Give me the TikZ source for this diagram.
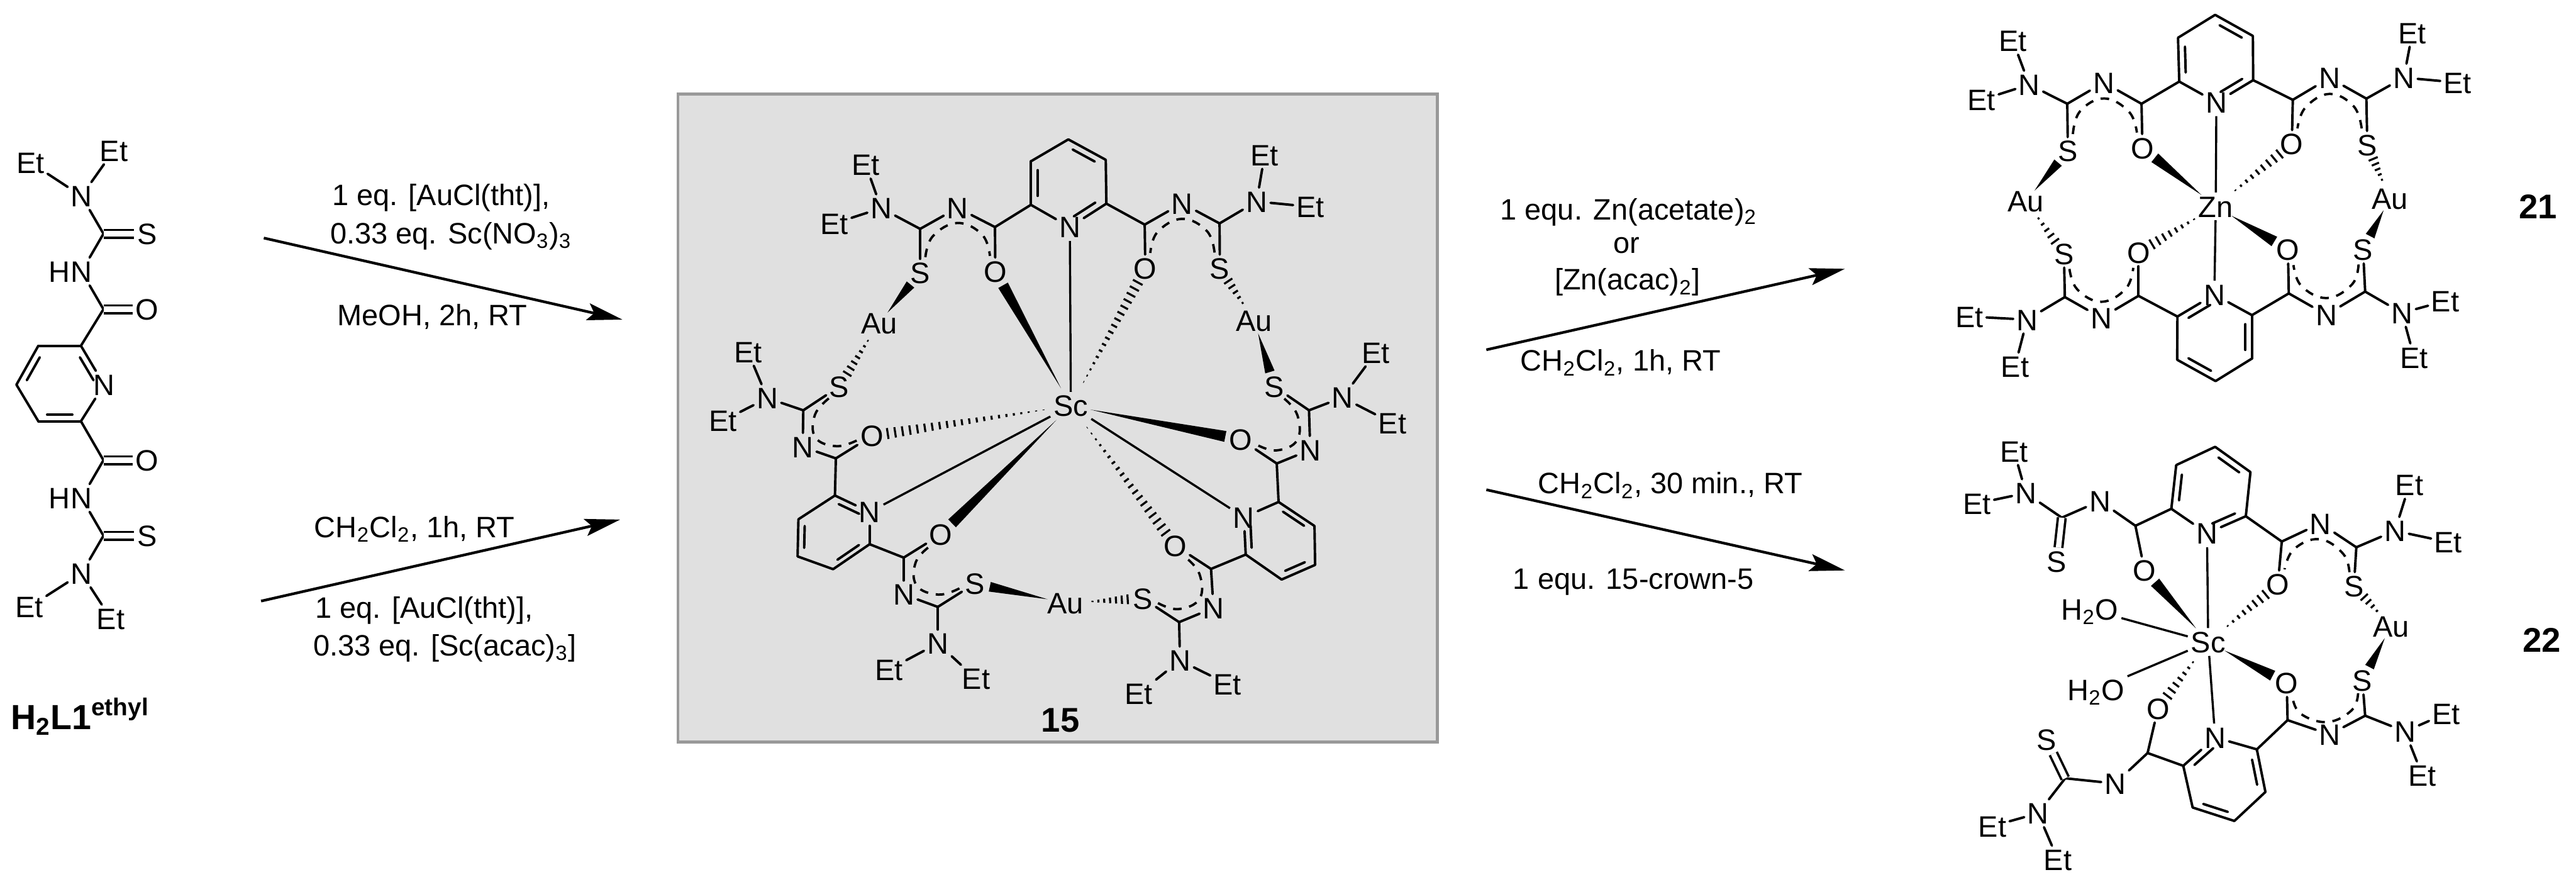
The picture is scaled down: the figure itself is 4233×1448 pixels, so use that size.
\documentclass[tikz,border=0pt]{standalone}
\usepackage{fontspec}
\setmainfont{Liberation Sans}
\usetikzlibrary{calc,arrows.meta}
\definecolor{boxfill}{HTML}{E0E0E0}
\definecolor{boxline}{HTML}{999999}
\tikzset{
  atom/.style={font=\fontsize{13.8}{16}\selectfont,inner sep=1.3pt,text height=10pt,text depth=0pt},
  cmpd/.style={font=\fontsize{16}{18}\selectfont\bfseries,inner sep=0pt,text height=11.5pt,text depth=0pt},
  lab/.style={font=\fontsize{13.8}{16}\selectfont,inner sep=0pt,anchor=base west},
  bond/.style={line width=1.15pt,line cap=round,line join=round},
  thinb/.style={line width=1pt},
  dbl/.style={line width=1.1pt,double=white,double distance=2.5pt},
  hashl/.style={line width=.95pt},
  deltabond/.style={line width=1.1pt,dash pattern=on 4pt off 3.6pt},
  rxn/.style={line width=1.25pt,-{Stealth[length=16.5pt,width=8pt,inset=3pt]}},
}
\newcommand\atm[4]{\node[atom] (#1) at (#2,#3) {#4};}
\newcommand\crd[3]{\coordinate (#1) at (#2,#3);}
\newcommand\bonds[1]{\foreach \p/\q in {#1}{\draw[bond] (\p) -- (\q);}}
\newcommand\thins[1]{\foreach \p/\q in {#1}{\draw[thinb] (\p) -- (\q);}}
\newcommand\ringd[3]{\draw[bond] ($(#1)!0.14!(#2)!0.18!(#3)$) -- ($(#2)!0.14!(#1)!0.18!(#3)$);}
% wedge: narrow end at #1, wide end at #2, gaps #3 #4, half width #5
\newcommand\wdg[5]{%
  \coordinate (wA) at ($(#1)!#3!(#2)$);
  \coordinate (wB) at ($(#2)!#4!(#1)$);
  \fill (wA) -- ($(wB)!#5!90:(#1)$) -- ($(wB)!#5!-90:(#1)$) -- cycle;}
% hashed wedge: narrow end at #1, wide end at #2, gaps #3 #4, half width #5, count #6
\newcommand\hsh[6]{%
  \coordinate (hA) at ($(#1)!#3!(#2)$);
  \coordinate (hB) at ($(#2)!#4!(#1)$);
  \foreach \i in {1,...,#6}{
    \pgfmathsetmacro\tt{\i/#6}
    \pgfmathsetlengthmacro\ww{#5*\tt}
    \coordinate (hc) at ($(hA)!\tt!(hB)$);
    \draw[hashl] ($(hc)!\ww!90:(#2)$) -- ($(hc)!\ww!-90:(#2)$);
  }}
% delocalised arc: S, Cs, N, Co, O
\newcommand\deloc[5]{%
  \coordinate (d1) at ($(#2)!.62!(#1)!.07!(#5)$);
  \coordinate (d2) at ($(#2)!.17!(#5)$);
  \coordinate (d3) at ($(#2)!.5!(#4)!.25!(#3)$);
  \coordinate (d4) at ($(#4)!.17!(#1)$);
  \coordinate (d5) at ($(#4)!.62!(#5)!.07!(#1)$);
  \draw[deltabond] plot[smooth,tension=.7] coordinates {(d1) (d2) (d3) (d4) (d5)};}
\begin{document}
\begin{tikzpicture}[x=0.01cm,y=-0.01cm]
\useasboundingbox (0,0) rectangle (4233,1448);
\node[draw=boxline,fill=boxfill,line width=1.3pt,minimum width=12.47cm,minimum height=10.64cm,inner sep=0pt,anchor=north west] (panel) at (1112,152) {};

% ---------- ligand H2L1
\atm{LE1}{50}{267}{Et}\atm{LE2}{187}{247}{Et}\atm{LN1}{134}{322}{N}
\crd{LC1}{170}{384}\atm{LS1}{242}{384}{S}
\atm{LH1}{98}{446}{H}\atm{LN2}{134}{446}{N}
\crd{LC2}{170}{508}\atm{LO1}{242}{508}{O}
\crd{Lr1}{133}{568}\atm{LNp}{171}{632}{N}\crd{Lr3}{133}{692}\crd{Lr4}{63}{692}\crd{Lr5}{27}{632}\crd{Lr6}{63}{568}\crd{Lrc}{99}{632}
\crd{LC3}{170}{756}\atm{LO2}{242}{756}{O}
\atm{LH2}{98}{818}{H}\atm{LN3}{134}{818}{N}
\crd{LC4}{170}{880}\atm{LS2}{242}{880}{S}
\atm{LN4}{134}{942}{N}\atm{LE3}{48}{997}{Et}\atm{LE4}{182}{1016}{Et}
\bonds{LN1/LE1,LN1/LE2,LN1/LC1,LC1/LN2,LN2/LC2,LC2/Lr1,Lr1/LNp,LNp/Lr3,Lr3/Lr4,Lr4/Lr5,Lr5/Lr6,Lr6/Lr1,Lr3/LC3,LC3/LN3,LN3/LC4,LC4/LN4,LN4/LE3,LN4/LE4}
\foreach \p/\q in {LC1/LS1,LC2/LO1,LC3/LO2,LC4/LS2}{\draw[dbl] (\p) -- (\q);}
\ringd{Lr1}{LNp}{Lrc}\ringd{Lr3}{Lr4}{Lrc}\ringd{Lr5}{Lr6}{Lrc}
\node[anchor=base west,inner sep=0pt,font=\fontsize{16.3}{18}\selectfont\bfseries] (Lname) at (17,1198) {H\textsubscript{2}L1\textsuperscript{ethyl}};

% ---------- arrows and conditions
\crd{ar1s}{433.5}{391}\crd{ar1e}{1022.8}{525}
\crd{ar2s}{429}{987.4}\crd{ar2e}{1019}{853.5}
\crd{ar3s}{2442.4}{574.6}\crd{ar3e}{3031.7}{441.6}
\crd{ar4s}{2442.4}{804.5}\crd{ar4e}{3031.7}{937}
\draw[rxn] (ar1s) -- (ar1e);
\draw[rxn] (ar2s) -- (ar2e);
\draw[rxn] (ar3s) -- (ar3e);
\draw[rxn] (ar4s) -- (ar4e);
\node[lab] (t1) at (545,337.7) {1 eq. [AuCl(tht)],};
\node[lab] (t2) at (542,400) {0.33 eq. Sc(NO\textsubscript{3})\textsubscript{3}};
\node[lab] (t3) at (554,534.8) {MeOH, 2h, RT};
\node[lab] (t4) at (516,883) {CH\textsubscript{2}Cl\textsubscript{2}, 1h, RT};
\node[lab] (t5) at (517.4,1015) {1 eq. [AuCl(tht)],};
\node[lab] (t6) at (514,1077) {0.33 eq. [Sc(acac)\textsubscript{3}]};
\node[lab] (t7) at (2464.7,361) {1 equ. Zn(acetate)\textsubscript{2}};
\node[lab,anchor=base] (t8) at (2673,416) {or};
\node[lab] (t9) at (2554,476.4) {[Zn(acac)\textsubscript{2}]};
\node[lab] (t10) at (2498,609.5) {CH\textsubscript{2}Cl\textsubscript{2}, 1h, RT};
\node[lab] (t11) at (2527,811) {CH\textsubscript{2}Cl\textsubscript{2}, 30 min., RT};
\node[lab] (t12) at (2485.7,967.5) {1 equ. 15-crown-5};

% ---------- compound 15
\atm{TSc}{1759.6}{666.5}{Sc}
\crd{Tr1}{1755.5}{229}\crd{Tr2}{1817}{262.5}\crd{Tr3}{1818}{334.5}\atm{TNa}{1758}{373}{N}\crd{Tr5}{1694}{336.5}\crd{Tr6}{1694}{265}\crd{Tca}{1756}{300}
\crd{TaCo}{1635}{373}\atm{TaO}{1635.5}{446}{O}\atm{TaN}{1573.5}{341.5}{N}\crd{TaCs}{1512}{376}\atm{TaS}{1512}{448}{S}\atm{TaNe}{1448}{342}{N}\atm{TaEa}{1422.5}{270.5}{Et}\atm{TaEb}{1371}{367}{Et}\atm{TaAu}{1444.5}{530.5}{Au}
\crd{TbCo}{1881}{369}\atm{TbO}{1882}{441}{O}\atm{TbN}{1942.5}{334}{N}\crd{TbCs}{2004}{367}\atm{TbS}{2004.5}{441}{S}\atm{TbNe}{2065}{331}{N}\atm{TbEa}{2078}{254.6}{Et}\atm{TbEb}{2153}{339.6}{Et}\atm{TbAu}{2061}{526.6}{Au}
\bonds{Tr1/Tr2,Tr2/Tr3,Tr3/TNa,TNa/Tr5,Tr5/Tr6,Tr6/Tr1,Tr5/TaCo,TaCo/TaO,TaCo/TaN,TaN/TaCs,TaCs/TaS,TaCs/TaNe,TaNe/TaEa,TaNe/TaEb,Tr3/TbCo,TbCo/TbO,TbCo/TbN,TbN/TbCs,TbCs/TbS,TbCs/TbNe,TbNe/TbEa,TbNe/TbEb}
\ringd{Tr5}{Tr6}{Tca}\ringd{Tr1}{Tr2}{Tca}\ringd{Tr3}{TNa}{Tca}
\deloc{TaS}{TaCs}{TaN}{TaCo}{TaO}\deloc{TbS}{TbCs}{TbN}{TbCo}{TbO}

\crd{Tl1}{1372}{814}\atm{TlN}{1429}{841}{N}\crd{Tl3}{1429}{894}\crd{Tl4}{1369}{935}\crd{Tl5}{1310.6}{914}\crd{Tl6}{1312}{853}\crd{Tlc}{1370}{875}
\crd{TcCo}{1373.5}{753}\atm{TcO}{1433}{716}{O}\atm{TcN}{1319}{734}{N}\crd{TcCs}{1320}{674}\atm{TcS}{1379}{635}{S}\atm{TcNe}{1261}{654}{N}\atm{TcEa}{1229}{578}{Et}\atm{TcEb}{1188}{691}{Et}
\crd{TdCo}{1485}{916}\atm{TdO}{1546}{878}{O}\atm{TdN}{1485}{976.4}{N}\crd{TdCs}{1541}{997}\atm{TdS}{1602}{958.6}{S}\atm{TdNe}{1541}{1057}{N}\atm{TdEa}{1461}{1099.6}{Et}\atm{TdEb}{1604}{1115}{Et}
\atm{TAu}{1750.6}{990.7}{Au}
\bonds{Tl1/TlN,TlN/Tl3,Tl3/Tl4,Tl4/Tl5,Tl5/Tl6,Tl6/Tl1,Tl1/TcCo,TcCo/TcO,TcCo/TcN,TcN/TcCs,TcCs/TcS,TcCs/TcNe,TcNe/TcEa,TcNe/TcEb,Tl3/TdCo,TdCo/TdO,TdCo/TdN,TdN/TdCs,TdCs/TdS,TdCs/TdNe,TdNe/TdEa,TdNe/TdEb}
\ringd{Tl1}{TlN}{Tlc}\ringd{Tl5}{Tl6}{Tlc}\ringd{Tl3}{Tl4}{Tlc}
\deloc{TcS}{TcCs}{TcN}{TcCo}{TcO}\deloc{TdS}{TdCs}{TdN}{TdCo}{TdO}

\crd{Tq1}{2101}{824.6}\atm{TqN}{2044}{849.6}{N}\crd{Tq3}{2047}{911}\crd{Tq4}{2106}{952}\crd{Tq5}{2161}{928}\crd{Tq6}{2160}{864}\crd{Tqc}{2103}{888}
\crd{TeCo}{1990}{934.6}\atm{TeO}{1931}{896}{O}\atm{TeN}{1994}{998.6}{N}\crd{TeCs}{1937.6}{1022}\atm{TeS}{1878}{983}{S}\atm{TeNe}{1939}{1085}{N}\atm{TeEa}{1871.4}{1139}{Et}\atm{TeEb}{2017}{1123.6}{Et}
\crd{TfCo}{2098}{761.4}\atm{TfO}{2039}{722}{O}\atm{TfN}{2153}{739}{N}\crd{TfCs}{2151}{674}\atm{TfS}{2094}{635}{S}\atm{TfNe}{2206}{653}{N}\atm{TfEa}{2261}{579}{Et}\atm{TfEb}{2288}{695}{Et}
\bonds{Tq1/TqN,TqN/Tq3,Tq3/Tq4,Tq4/Tq5,Tq5/Tq6,Tq6/Tq1,Tq3/TeCo,TeCo/TeO,TeCo/TeN,TeN/TeCs,TeCs/TeS,TeCs/TeNe,TeNe/TeEa,TeNe/TeEb,Tq1/TfCo,TfCo/TfO,TfCo/TfN,TfN/TfCs,TfCs/TfS,TfCs/TfNe,TfNe/TfEa,TfNe/TfEb}
\ringd{Tq1}{Tq6}{Tqc}\ringd{TqN}{Tq3}{Tqc}\ringd{Tq4}{Tq5}{Tqc}
\deloc{TeS}{TeCs}{TeN}{TeCo}{TeO}\deloc{TfS}{TfCs}{TfN}{TfCo}{TfO}

\thins{TSc/TNa,TSc/TlN,TSc/TqN}
\wdg{TSc}{TaO}{.33cm}{.26cm}{.09cm}
\wdg{TSc}{TfO}{.33cm}{.26cm}{.09cm}
\wdg{TSc}{TdO}{.33cm}{.26cm}{.09cm}
\hsh{TSc}{TbO}{.33cm}{.26cm}{.09cm}{17}
\hsh{TSc}{TcO}{.33cm}{.26cm}{.09cm}{22}
\hsh{TSc}{TeO}{.33cm}{.26cm}{.09cm}{19}
\wdg{TaAu}{TaS}{.22cm}{.25cm}{.08cm}
\hsh{TaAu}{TcS}{.24cm}{.25cm}{.08cm}{7}
\hsh{TbAu}{TbS}{.24cm}{.25cm}{.08cm}{5}
\wdg{TbAu}{TfS}{.22cm}{.25cm}{.08cm}
\wdg{TAu}{TdS}{.3cm}{.25cm}{.08cm}
\hsh{TAu}{TeS}{.35cm}{.25cm}{.08cm}{7}
\node[cmpd] (n15) at (1742.4,1182) {15};

% ---------- compound 21
\atm{ZM}{3641}{339}{Zn}
\crd{Zr1}{3640}{24.4}\crd{Zr2}{3702}{59}\crd{Zr3}{3702.5}{131.7}\atm{ZNa}{3642}{168}{N}\crd{Zr5}{3581}{134}\crd{Zr6}{3579}{62}\crd{Zca}{3641}{97}
\crd{ZaCo}{3519}{170.5}\atm{ZaO}{3520.5}{243}{O}\atm{ZaN}{3457}{135.5}{N}\crd{ZaCs}{3397}{170.5}\atm{ZaS}{3398}{248}{S}\atm{ZaNe}{3334.5}{139}{N}\atm{ZaEa}{3307.6}{67}{Et}\atm{ZaEb}{3256}{164}{Et}\atm{ZaAu}{3329}{330}{Au}
\crd{ZbCo}{3767.6}{164}\atm{ZbO}{3766}{236.5}{O}\atm{ZbN}{3828}{128}{N}\crd{ZbCs}{3888.5}{162}\atm{ZbS}{3890}{238}{S}\atm{ZbNe}{3950}{127.5}{N}\atm{ZbEa}{3964}{54}{Et}\atm{ZbEb}{4038}{135.5}{Et}\atm{ZbAu}{3927}{326}{Au}
\bonds{Zr1/Zr2,Zr2/Zr3,Zr3/ZNa,ZNa/Zr5,Zr5/Zr6,Zr6/Zr1,Zr5/ZaCo,ZaCo/ZaO,ZaCo/ZaN,ZaN/ZaCs,ZaCs/ZaS,ZaCs/ZaNe,ZaNe/ZaEa,ZaNe/ZaEb,Zr3/ZbCo,ZbCo/ZbO,ZbCo/ZbN,ZbN/ZbCs,ZbCs/ZbS,ZbCs/ZbNe,ZbNe/ZbEa,ZbNe/ZbEb}
\ringd{Zr5}{Zr6}{Zca}\ringd{Zr1}{Zr2}{Zca}\ringd{Zr3}{ZNa}{Zca}
\deloc{ZaS}{ZaCs}{ZaN}{ZaCo}{ZaO}\deloc{ZbS}{ZbCs}{ZbN}{ZbCo}{ZbO}
\atm{ZNb}{3638.7}{484}{N}\crd{Zq2}{3578}{520}\crd{Zq3}{3700.5}{517.7}\crd{Zq4}{3700.5}{589}\crd{Zq5}{3640.7}{626}\crd{Zq6}{3577.6}{591}\crd{Zqc}{3640}{555}
\crd{ZcCo}{3514}{486}\atm{ZcO}{3514}{414.6}{O}\atm{ZcN}{3453}{522}{N}\crd{ZcCs}{3393}{488}\atm{ZcS}{3391.5}{416.7}{S}\atm{ZcNe}{3331}{525}{N}\atm{ZcEa}{3236}{520}{Et}\atm{ZcEb}{3311}{602}{Et}
\crd{ZdCo}{3761}{482}\atm{ZdO}{3759.6}{410}{O}\atm{ZdN}{3822.7}{517}{N}\crd{ZdCs}{3886.5}{479}\atm{ZdS}{3883}{410}{S}\atm{ZdNe}{3947}{514}{N}\atm{ZdEa}{4018}{494.5}{Et}\atm{ZdEb}{3967}{587}{Et}
\bonds{ZNb/Zq2,ZNb/Zq3,Zq3/Zq4,Zq4/Zq5,Zq5/Zq6,Zq6/Zq2,Zq2/ZcCo,ZcCo/ZcO,ZcCo/ZcN,ZcN/ZcCs,ZcCs/ZcS,ZcCs/ZcNe,ZcNe/ZcEa,ZcNe/ZcEb,Zq3/ZdCo,ZdCo/ZdO,ZdCo/ZdN,ZdN/ZdCs,ZdCs/ZdS,ZdCs/ZdNe,ZdNe/ZdEa,ZdNe/ZdEb}
\ringd{ZNb}{Zq2}{Zqc}\ringd{Zq3}{Zq4}{Zqc}\ringd{Zq5}{Zq6}{Zqc}
\deloc{ZcS}{ZcCs}{ZcN}{ZcCo}{ZcO}\deloc{ZdS}{ZdCs}{ZdN}{ZdCo}{ZdO}
\thins{ZM/ZNa,ZM/ZNb}
\wdg{ZM}{ZaO}{.3cm}{.26cm}{.09cm}
\wdg{ZM}{ZdO}{.3cm}{.26cm}{.09cm}
\hsh{ZM}{ZbO}{.3cm}{.26cm}{.09cm}{9}
\hsh{ZM}{ZcO}{.3cm}{.26cm}{.09cm}{8}
\wdg{ZaAu}{ZaS}{.22cm}{.25cm}{.08cm}
\hsh{ZaAu}{ZcS}{.24cm}{.25cm}{.08cm}{5}
\hsh{ZbAu}{ZbS}{.24cm}{.25cm}{.08cm}{5}
\wdg{ZbAu}{ZdS}{.22cm}{.25cm}{.08cm}
\node[cmpd] (n21) at (4170.6,339) {21};

% ---------- compound 22
\atm{YM}{3628.6}{1054.7}{Sc}
\crd{Yr1}{3640}{734}\crd{Yr2}{3698}{775.5}\crd{Yr3}{3690.4}{848}\atm{YNa}{3626.6}{876}{N}\crd{Yr5}{3568}{835.8}\crd{Yr6}{3576}{764}\crd{Yca}{3633}{805}
\crd{YaCo}{3509}{863.7}\atm{YaO}{3524}{937}{O}\atm{YaN}{3450.6}{823}{N}\crd{YaCs}{3388}{850.4}\atm{YaS}{3380}{922.4}{S}\atm{YaNe}{3329}{810}{N}\atm{YaEa}{3309.6}{741}{Et}\atm{YaEb}{3248.5}{827}{Et}
\crd{YbCo}{3749.5}{889.6}\atm{YbO}{3743}{960}{O}\atm{YbN}{3813}{859.8}{N}\crd{YbCs}{3872}{899}\atm{YbS}{3868}{962.6}{S}\atm{YbNe}{3935.5}{872}{N}\atm{YbEa}{3959}{796.6}{Et}\atm{YbEb}{4023}{890.6}{Et}\atm{YAu}{3929}{1028.7}{Au}
\bonds{Yr1/Yr2,Yr2/Yr3,Yr3/YNa,YNa/Yr5,Yr5/Yr6,Yr6/Yr1,Yr5/YaCo,YaCo/YaO,YaCo/YaN,YaN/YaCs,YaCs/YaNe,YaNe/YaEa,YaNe/YaEb,Yr3/YbCo,YbCo/YbO,YbCo/YbN,YbN/YbCs,YbCs/YbS,YbCs/YbNe,YbNe/YbEa,YbNe/YbEb}
\draw[dbl] (YaCs) -- (YaS);
\ringd{Yr5}{Yr6}{Yca}\ringd{Yr1}{Yr2}{Yca}\ringd{Yr3}{YNa}{Yca}
\deloc{YbS}{YbCs}{YbN}{YbCo}{YbO}
\atm{YNb}{3640}{1211.4}{N}\crd{Yq2}{3587.6}{1258}\crd{Yq3}{3708.5}{1231}\crd{Yq4}{3722.6}{1301}\crd{Yq5}{3671.6}{1348.6}\crd{Yq6}{3603}{1326.5}\crd{Yqc}{3656}{1280}
\crd{YcCo}{3529}{1237}\atm{YcO}{3546}{1164}{O}\atm{YcN}{3475.5}{1287}{N}\crd{YcCs}{3393.6}{1278.5}\atm{YcS}{3363}{1215}{S}\atm{YcNe}{3349}{1336}{N}\atm{YcEa}{3274}{1357}{Et}\atm{YcEb}{3381.5}{1412}{Et}
\crd{YdCo}{3759}{1183}\atm{YdO}{3757.6}{1122}{O}\atm{YdN}{3828}{1206.5}{N}\crd{YdCs}{3886.5}{1175.7}\atm{YdS}{3882}{1118}{S}\atm{YdNe}{3952}{1201.6}{N}\atm{YdEa}{4019.5}{1172}{Et}\atm{YdEb}{3980.5}{1273.6}{Et}
\bonds{YNb/Yq2,YNb/Yq3,Yq3/Yq4,Yq4/Yq5,Yq5/Yq6,Yq6/Yq2,Yq2/YcCo,YcCo/YcO,YcCo/YcN,YcN/YcCs,YcCs/YcNe,YcNe/YcEa,YcNe/YcEb,Yq3/YdCo,YdCo/YdO,YdCo/YdN,YdN/YdCs,YdCs/YdS,YdCs/YdNe,YdNe/YdEa,YdNe/YdEb}
\draw[dbl] (YcCs) -- (YcS);
\ringd{YNb}{Yq2}{Yqc}\ringd{Yq3}{Yq4}{Yqc}\ringd{Yq5}{Yq6}{Yqc}
\deloc{YdS}{YdCs}{YdN}{YdCo}{YdO}
\atm{YwA}{3434}{1001}{H\textsubscript{2}O}\atm{YwB}{3444}{1133}{H\textsubscript{2}O}
\thins{YM/YNa,YM/YNb,YM/YwA,YM/YwB}
\wdg{YM}{YaO}{.3cm}{.26cm}{.09cm}
\wdg{YM}{YdO}{.3cm}{.26cm}{.09cm}
\hsh{YM}{YbO}{.3cm}{.26cm}{.09cm}{8}
\hsh{YM}{YcO}{.3cm}{.26cm}{.09cm}{7}
\hsh{YAu}{YbS}{.24cm}{.25cm}{.08cm}{4}
\wdg{YAu}{YdS}{.22cm}{.25cm}{.08cm}
\node[cmpd] (n22) at (4177,1051) {22};
\end{tikzpicture}
\end{document}
